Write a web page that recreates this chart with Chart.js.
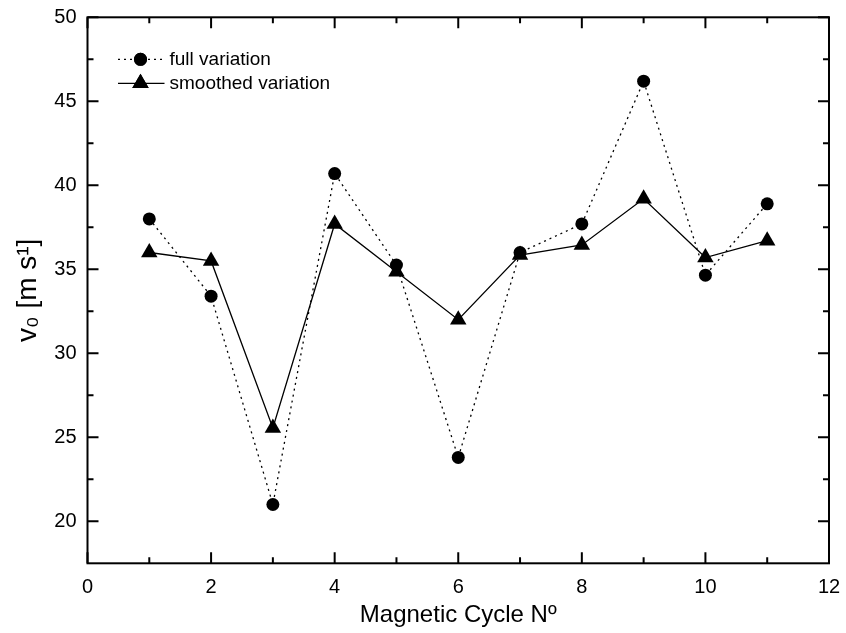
<!DOCTYPE html>
<html>
<head>
<meta charset="utf-8">
<script src="https://cdn.jsdelivr.net/npm/chart.js@4/dist/chart.umd.min.js"></script>
<style>
  html, body { margin: 0; padding: 0; background: #ffffff; }
  #wrap { width: 846px; height: 633px; }
</style>
</head>
<body>
<div id="wrap"><canvas id="c" width="846" height="633"></canvas></div>
<script>
// ---- data ----
const cycles = [1, 2, 3, 4, 5, 6, 7, 8, 9, 10, 11];
const fullVariation = [38.0, 33.4, 21.0, 40.7, 35.25, 23.8, 36.0, 37.7, 46.2, 34.65, 38.9];
const smoothedVariation = [36.0, 35.5, 25.55, 37.7, 34.85, 32.0, 35.85, 36.45, 39.2, 35.7, 36.7];
const seriesNames = ['full variation', 'smoothed variation'];
const xTicks = [0, 2, 4, 6, 8, 10, 12];
const xMinorTicks = [1, 3, 5, 7, 9, 11];
const yTicks = [20, 25, 30, 35, 40, 45, 50];
const yMinorTicks = [22.5, 27.5, 32.5, 37.5, 42.5, 47.5];
const xTitle = 'Magnetic Cycle Nº';
const yTitle = 'v₀ [m s¹]';

const FONT = "'Liberation Sans', Arial, Helvetica, sans-serif";

const toPoints = (xs, ys) => xs.map((x, i) => ({ x: x, y: ys[i] }));

// frame + inward ticks
const framePlugin = {
  id: 'frame',
  afterDraw(chart) {
    const ctx = chart.ctx;
    const a = chart.chartArea;
    const xs = chart.scales.x, ys = chart.scales.y;
    ctx.save();
    ctx.strokeStyle = '#000';
    ctx.lineWidth = 2;
    ctx.beginPath();
    const tick = (vals, len) => {
      vals.forEach(v => {
        const px = xs.getPixelForValue(v);
        ctx.moveTo(px, a.bottom); ctx.lineTo(px, a.bottom - len);
        ctx.moveTo(px, a.top); ctx.lineTo(px, a.top + len);
      });
    };
    const tickY = (vals, len) => {
      vals.forEach(v => {
        const py = ys.getPixelForValue(v);
        ctx.moveTo(a.left, py); ctx.lineTo(a.left + len, py);
        ctx.moveTo(a.right, py); ctx.lineTo(a.right - len, py);
      });
    };
    tick(xTicks, 11); tick(xMinorTicks, 6);
    tickY(yTicks, 11); tickY(yMinorTicks, 6);
    ctx.stroke();
    ctx.strokeRect(a.left, a.top, a.right - a.left, a.bottom - a.top);
    ctx.restore();
  }
};

// legend inside plot
const legendPlugin = {
  id: 'innerLegend',
  afterDatasetsDraw(chart) {
    const ctx = chart.ctx;
    const a = chart.chartArea;
    const rows = [
      { y: a.top + 42, ds: chart.data.datasets[0] },
      { y: a.top + 66, ds: chart.data.datasets[1] }
    ];
    const x0 = a.left + 30.5, x1 = a.left + 77, xm = a.left + 53;
    ctx.save();
    rows.forEach(r => {
      ctx.strokeStyle = '#000';
      ctx.lineWidth = r.ds.borderWidth;
      ctx.setLineDash(r.ds.borderDash || []);
      ctx.beginPath();
      ctx.moveTo(x0, r.y); ctx.lineTo(x1, r.y);
      ctx.stroke();
      ctx.setLineDash([]);
      ctx.fillStyle = '#000';
      Chart.helpers.drawPoint(ctx, {
        pointStyle: r.ds.pointStyle, radius: r.ds.pointRadius, rotation: 0, borderWidth: 0
      }, xm, r.y);
      ctx.fill();
      ctx.font = '19px ' + FONT;
      ctx.textBaseline = 'middle';
      ctx.textAlign = 'left';
      ctx.fillText(r.ds.label, a.left + 82, r.y);
    });
    ctx.restore();
  }
};

new Chart(document.getElementById('c'), {
  type: 'line',
  data: {
    datasets: [
      {
        label: seriesNames[0],
        data: toPoints(cycles, fullVariation),
        borderColor: '#000', backgroundColor: '#000',
        borderWidth: 1.3, borderDash: [2, 4],
        pointStyle: 'circle', pointRadius: 6.5, pointBorderWidth: 0,
        pointBackgroundColor: '#000', tension: 0
      },
      {
        label: seriesNames[1],
        data: toPoints(cycles, smoothedVariation),
        borderColor: '#000', backgroundColor: '#000',
        borderWidth: 1.3,
        pointStyle: 'triangle', pointRadius: 9.5, pointBorderWidth: 0,
        pointBackgroundColor: '#000', tension: 0
      }
    ]
  },
  options: {
    responsive: false,
    animation: false,
    devicePixelRatio: 1,
    layout: { padding: { top: 17.3, right: 17, left: 0, bottom: 0 } },
    plugins: { legend: { display: false }, tooltip: { enabled: false }, title: { display: false } },
    scales: {
      x: {
        type: 'linear', min: 0, max: 12,
        afterBuildTicks: s => { s.ticks = xTicks.map(v => ({ value: v })); },
        afterFit: s => { s.height = 69.7; s.paddingLeft = 0; s.paddingRight = 0; },
        grid: { display: false, drawTicks: false },
        border: { display: false },
        ticks: { color: '#000', font: { family: FONT, size: 20 }, padding: 12, maxRotation: 0 },
        title: { display: true, text: xTitle, color: '#000', font: { family: FONT, size: 24 }, padding: { top: 0, bottom: 3 } }
      },
      y: {
        type: 'linear', min: 17.5, max: 50,
        afterBuildTicks: s => { s.ticks = yTicks.map(v => ({ value: v })); },
        afterFit: s => { s.width = 87.5; s.paddingTop = 0; s.paddingBottom = 0; },
        grid: { display: false, drawTicks: false },
        border: { display: false },
        ticks: { color: '#000', font: { family: FONT, size: 20 }, padding: 11 },
        title: { display: true, text: yTitle, color: '#000', font: { family: FONT, size: 28 }, padding: { top: 11, bottom: 0 } }
      }
    }
  },
  plugins: [framePlugin, legendPlugin]
});
</script>
</body>
</html>
